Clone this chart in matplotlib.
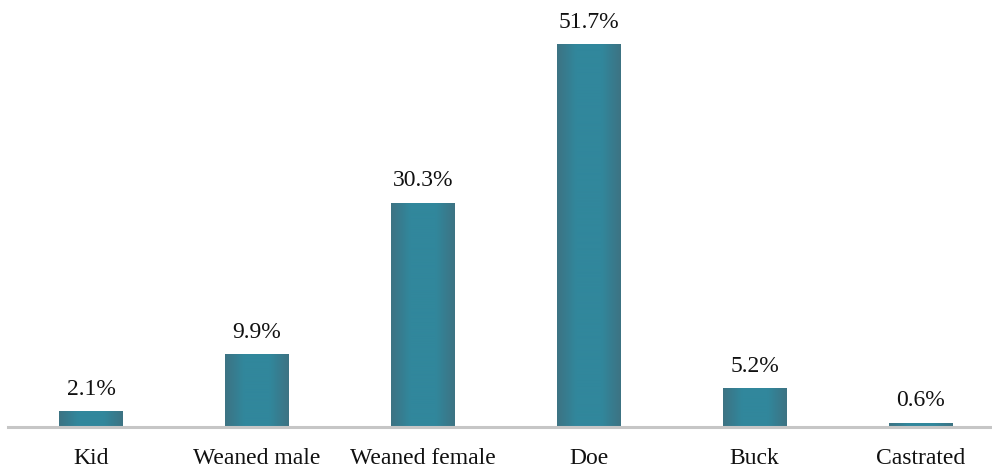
import matplotlib
matplotlib.use("Agg")
import matplotlib.pyplot as plt
import numpy as np
from matplotlib.colors import LinearSegmentedColormap

categories = ["Kid", "Weaned male", "Weaned female", "Doe", "Buck", "Castrated"]
shares = [2.1, 9.9, 30.3, 51.7, 5.2, 0.6]

EDGE_COLOR = "#3D7383"
MID_COLOR = "#31879C"
AXIS_GRAY = "#C6C6C6"
BAR_WIDTH = 0.38

plt.rcParams["font.family"] = ["Liberation Serif", "DejaVu Serif"]

fig = plt.figure(figsize=(9.92, 4.71), dpi=100)
# axis line sits ~44 px above the bottom; the plot runs a bit past the right edge
ax = fig.add_axes([8 / 992, 44 / 471, 995.5 / 992, 427 / 471])

x = np.arange(len(categories))
bars = ax.bar(x, shares, width=BAR_WIDTH, color=MID_COLOR, linewidth=0, zorder=2)

# darker sides fading into a brighter middle, like a soft bevel
shade = LinearSegmentedColormap.from_list(
    "bevel", [(0.0, EDGE_COLOR), (0.3, MID_COLOR), (0.7, MID_COLOR), (1.0, EDGE_COLOR)])
grad = np.linspace(0, 1, 256).reshape(1, -1)
for bar in bars:
    x0, y0 = bar.get_x(), bar.get_y()
    w, h = bar.get_width(), bar.get_height()
    im = ax.imshow(grad, cmap=shade, aspect="auto", extent=(x0, x0 + w, y0, y0 + h),
                   interpolation="bilinear", zorder=3)
    im.set_clip_path(bar)

for xi, val in zip(x, shares):
    ax.annotate(f"{val}%", (xi, val), xytext=(0, 8), textcoords="offset points",
                ha="center", va="bottom", fontsize=17, color="#111111")

ax.set_xlim(-0.5, len(categories) - 0.5)
ax.set_ylim(0, 57.64)
ax.set_xticks(x)
ax.set_xticklabels(categories, fontsize=17, color="#111111")
ax.tick_params(axis="x", length=0, pad=15)
ax.set_yticks([])

for side in ("top", "right", "left"):
    ax.spines[side].set_visible(False)
ax.spines["bottom"].set_color(AXIS_GRAY)
ax.spines["bottom"].set_linewidth(2.2)
ax.spines["bottom"].set_zorder(4)
ax.patch.set_alpha(0)

fig.savefig("out.png", dpi=100)
